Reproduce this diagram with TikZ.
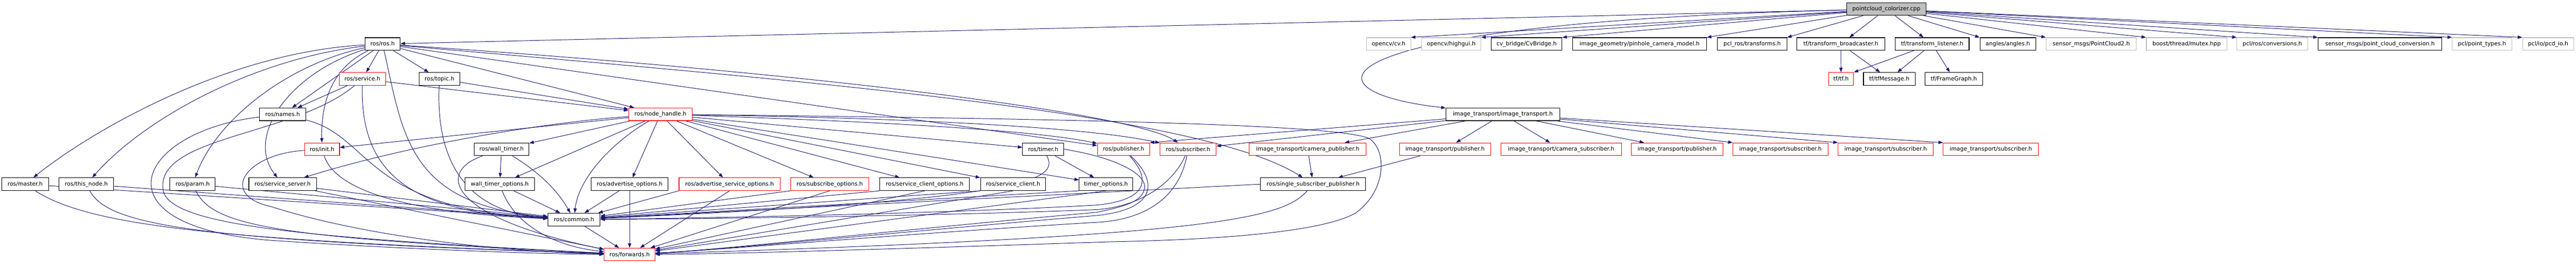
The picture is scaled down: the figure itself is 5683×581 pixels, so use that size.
\documentclass[tikz,border=0pt]{standalone}
\usepackage{fontspec}
\setmainfont{DejaVu Sans}
\usetikzlibrary{arrows.meta,backgrounds}
\definecolor{edgec}{HTML}{191970}
\definecolor{grayb}{HTML}{BFBFBF}
\newcommand\mkbox[6]{%
  \pgfmathsetmacro\boxcx{(#2+#3)/2}%
  \pgfmathsetmacro\boxw{(#3-#2)/2}%
  \node[#5, minimum width=\boxw pt] (#1) at (\boxcx,#4) {#6};}
\tikzset{
  basebox/.style={draw, line width=0.6pt, fill=white, minimum height=14pt, inner sep=0pt,
    font=\fontsize{6.2pt}{7pt}\selectfont, text=black},
  blkbox/.style={basebox, draw=black},
  redbox/.style={basebox, draw=red},
  graybox/.style={basebox, draw=grayb},
  rootbox/.style={basebox, draw=black, fill=grayb},
  ed/.style={draw=edgec, line width=0.55pt, -{Triangle[length=5pt,width=3.6pt]}}
}
\begin{document}
\begin{tikzpicture}[x=0.5pt,y=-0.5pt]
\useasboundingbox (0,0) rectangle (5683,581);
% row 0
\mkbox{root}{4074}{4249}{20}{rootbox}{pointcloud\_colorizer.cpp}
% row 1
\mkbox{rosh}{805}{883}{97}{blkbox}{ros/ros.h}
\mkbox{cvh}{3015}{3112}{97}{graybox}{opencv/cv.h}
\mkbox{highgui}{3136}{3267}{97}{graybox}{opencv/highgui.h}
\mkbox{cvbridge}{3290}{3446}{97}{blkbox}{cv\_bridge/CvBridge.h}
\mkbox{pinhole}{3469}{3765}{97}{blkbox}{image\_geometry/pinhole\_camera\_model.h}
\mkbox{pclros}{3789}{3942}{97}{blkbox}{pcl\_ros/transforms.h}
\mkbox{tfb}{3964}{4158}{97}{blkbox}{tf/transform\_broadcaster.h}
\mkbox{tfl}{4181}{4344}{97}{blkbox}{tf/transform\_listener.h}
\mkbox{angles}{4368}{4491}{97}{blkbox}{angles/angles.h}
\mkbox{pctwo}{4514}{4713}{97}{graybox}{sensor\_msgs/PointCloud2.h}
\mkbox{mutex}{4735}{4913}{97}{graybox}{boost/thread/mutex.hpp}
\mkbox{conv}{4935}{5091}{97}{graybox}{pcl/ros/conversions.h}
\mkbox{pcc}{5114}{5387}{97}{blkbox}{sensor\_msgs/point\_cloud\_conversion.h}
\mkbox{ptypes}{5410}{5541}{97}{graybox}{pcl/point\_types.h}
\mkbox{pcdio}{5565}{5678}{97}{graybox}{pcl/io/pcd\_io.h}
% row 2
\mkbox{service}{748}{851}{174}{redbox}{ros/service.h}
\mkbox{topic}{925}{1014}{174}{blkbox}{ros/topic.h}
\mkbox{tftf}{4034}{4089}{174}{redbox}{tf/tf.h}
\mkbox{tfmsg}{4111}{4225}{174}{blkbox}{tf/tfMessage.h}
\mkbox{fg}{4247}{4374}{174}{blkbox}{tf/FrameGraph.h}
% row 3
\mkbox{names}{572}{675}{252}{blkbox}{ros/names.h}
\mkbox{nh}{1387}{1527}{252}{redbox}{ros/node\_handle.h}
\mkbox{it}{3190}{3441}{252}{blkbox}{image\_transport/image\_transport.h}
% row 4
\mkbox{init}{672}{749}{329}{redbox}{ros/init.h}
\mkbox{wt}{1046}{1167}{329}{blkbox}{ros/wall\_timer.h}
\mkbox{timer}{2256}{2347}{329}{blkbox}{ros/timer.h}
\mkbox{pub}{2421}{2536}{329}{redbox}{ros/publisher.h}
\mkbox{sub}{2559}{2683}{329}{redbox}{ros/subscriber.h}
\mkbox{campub}{2756}{3014}{329}{redbox}{image\_transport/camera\_publisher.h}
\mkbox{itpubA}{3087}{3289}{329}{redbox}{image\_transport/publisher.h}
\mkbox{camsub}{3311}{3577}{329}{redbox}{image\_transport/camera\_subscriber.h}
\mkbox{itpubB}{3599}{3801}{329}{redbox}{image\_transport/publisher.h}
\mkbox{itsubA}{3823}{4033}{329}{redbox}{image\_transport/subscriber.h}
\mkbox{itsubB}{4055}{4265}{329}{redbox}{image\_transport/subscriber.h}
\mkbox{itsubC}{4287}{4497}{329}{redbox}{image\_transport/subscriber.h}
% row 5
\mkbox{master}{4}{107}{406}{blkbox}{ros/master.h}
\mkbox{thisnode}{130}{251}{406}{blkbox}{ros/this\_node.h}
\mkbox{param}{375}{475}{406}{blkbox}{ros/param.h}
\mkbox{ss}{549}{698}{406}{blkbox}{ros/service\_server.h}
\mkbox{wto}{1026}{1179}{406}{blkbox}{wall\_timer\_options.h}
\mkbox{ado}{1304}{1474}{406}{blkbox}{ros/advertise\_options.h}
\mkbox{aso}{1498}{1721}{406}{redbox}{ros/advertise\_service\_options.h}
\mkbox{sbo}{1744}{1917}{406}{redbox}{ros/subscribe\_options.h}
\mkbox{sco}{1941}{2139}{406}{blkbox}{ros/service\_client\_options.h}
\mkbox{sc}{2163}{2307}{406}{blkbox}{ros/service\_client.h}
\mkbox{tmo}{2381}{2499}{406}{blkbox}{timer\_options.h}
\mkbox{ssp}{2781}{3013}{406}{blkbox}{ros/single\_subscriber\_publisher.h}
% rows 6, 7
\mkbox{common}{1209}{1324}{484}{blkbox}{ros/common.h}
\mkbox{fwd}{1333}{1445}{561}{redbox}{ros/forwards.h}

\begin{pgfonlayer}{background}
% root
\foreach \t in {cvh,highgui,cvbridge,pinhole,pclros}
  \draw[ed] (root) -- (\t.north east);
\draw[ed] (root) -- (tfb);
\draw[ed] (root) -- (tfl);
\foreach \t in {angles,pctwo,mutex,conv,pcc,ptypes,pcdio}
  \draw[ed] (root) -- (\t.north west);
\draw[ed] (root) -- (rosh);
\draw[ed] (root) .. controls (2900,50) and (2850,200) .. (it);
% tf
\draw[ed] (tfb) -- (tftf);
\draw[ed] (tfb) -- (tfmsg);
\draw[ed] (tfl) -- (tftf.north east);
\draw[ed] (tfl) -- (tfmsg);
\draw[ed] (tfl) -- (fg);
% ros.h
\draw[ed] (rosh) .. controls (500,115) and (200,290) .. (master);
\draw[ed] (rosh) .. controls (560,130) and (320,260) .. (thisnode);
\draw[ed] (rosh) .. controls (640,140) and (480,260) .. (param);
\draw[ed] (rosh) .. controls (640,160) and (540,300) .. (ss);
\draw[ed] (rosh) -- (names);
\draw[ed] (rosh) .. controls (730,150) and (708,230) .. (init);
\draw[ed] (rosh) -- (service);
\draw[ed] (rosh) -- (topic);
\draw[ed] (rosh) -- (nh);
\draw[ed] (rosh) -- (pub);
\draw[ed] (rosh) .. controls (1800,160) and (2500,250) .. (sub);
\draw[ed] (rosh) .. controls (1800,180) and (2650,250) .. (ssp);
\draw[ed] (rosh) .. controls (890,300) and (900,450) .. (common);
% service.h
\draw[ed] (service) -- (names);
\draw[ed] (service) -- (nh);
\draw[ed] (service) .. controls (795,380) and (900,470) .. (common);
\draw[ed] (service) .. controls (650,300) and (340,300) .. (360,420) .. controls (375,500) and (700,525) .. (fwd);
% topic.h
\draw[ed] (topic) -- (nh);
\draw[ed] (topic) .. controls (960,380) and (1050,470) .. (common);
% names.h
\draw[ed] (names) .. controls (820,300) and (800,460) .. (common);
\draw[ed] (names) .. controls (300,290) and (200,500) .. (600,530) .. controls (900,550) and (1200,560) .. (fwd);
% init.h
\draw[ed] (init) .. controls (740,420) and (900,470) .. (common);
\draw[ed] (init) .. controls (540,340) and (480,430) .. (600,456) .. controls (800,520) and (1100,555) .. (fwd);
% left row 5
\draw[ed] (master) -- (common);
\draw[ed] (master) .. controls (200,500) and (500,530) .. (fwd);
\draw[ed] (thisnode) -- (common);
\draw[ed] (thisnode) .. controls (240,500) and (450,530) .. (fwd);
\draw[ed] (param) -- (common);
\draw[ed] (param) .. controls (470,500) and (620,525) .. (fwd);
\draw[ed] (ss) -- (common);
\draw[ed] (ss) -- (fwd);
% wall timer
\draw[ed] (wt) -- (wto);
\draw[ed] (wt) .. controls (1190,380) and (1230,420) .. (common);
\draw[ed] (wt) .. controls (960,380) and (990,480) .. (fwd);
\draw[ed] (wto) -- (common);
\draw[ed] (wto) .. controls (1130,480) and (1200,540) .. (fwd);
% node_handle.h
\draw[ed] (nh) -- (init);
\draw[ed] (nh) .. controls (1200,270) and (900,320) .. (ss);
\draw[ed] (nh) -- (wt);
\draw[ed] (nh) -- (wto);
\draw[ed] (nh) .. controls (1340,320) and (1275,400) .. (common);
\foreach \t in {ado,aso,sbo,sco,sc,timer,tmo}
  \draw[ed] (nh) -- (\t);
\draw[ed] (nh) .. controls (2000,270) and (2300,290) .. (pub);
\draw[ed] (nh) .. controls (2000,260) and (2400,280) .. (sub);
\draw[ed] (nh) .. controls (2400,262) and (2950,275) .. (3020,305) .. controls (3060,330) and (3060,420) .. (2990,470) .. controls (2900,520) and (2600,530) .. (2450,533) .. controls (2000,548) and (1600,560) .. (fwd);
% options row to common / forwards
\draw[ed] (ado) -- (common);
\draw[ed] (ado) -- (fwd);
\foreach \t in {aso,sbo,sco,sc,tmo}{
  \draw[ed] (\t.south west) -- (common);
  \draw[ed] (\t.south) -- (fwd);
}
% timer
\draw[ed] (timer) -- (tmo);
\draw[ed] (timer) .. controls (2340,400) and (2250,440) .. (common);
\draw[ed] (timer.east) .. controls (2450,345) and (2530,380) .. (2525,415) .. controls (2520,445) and (2480,455) .. (2420,468) .. controls (2000,505) and (1600,550) .. (fwd);
% publisher / subscriber
\draw[ed] (pub) .. controls (2535,390) and (2540,440) .. (2420,452) .. controls (2100,470) and (1600,480) .. (common);
\draw[ed] (pub) .. controls (2550,395) and (2560,460) .. (2420,475) .. controls (2000,510) and (1600,550) .. (fwd);
\draw[ed] (sub) .. controls (2590,400) and (2520,455) .. (2420,462) .. controls (2100,475) and (1600,482) .. (common);
\draw[ed] (sub) .. controls (2600,440) and (2520,485) .. (2420,490) .. controls (2000,515) and (1600,550) .. (fwd);
% single subscriber publisher
\draw[ed] (ssp.west) -- (common);
\draw[ed] (ssp) .. controls (2830,480) and (2700,520) .. (fwd);
\draw[ed] (campub) -- (ssp);
\draw[ed] (itpubA) -- (ssp);
% image_transport.h
\draw[ed] (it) -- (pub.north east);
\draw[ed] (it) -- (sub);
\draw[ed] (it) -- (campub);
\draw[ed] (it) -- (itpubA);
\draw[ed] (it) -- (camsub);
\draw[ed] (it) -- (itpubB);
\draw[ed] (it) -- (itsubA.north west);
\draw[ed] (it) -- (itsubB.north west);
\draw[ed] (it) -- (itsubC.north west);
% common
\draw[ed] (common) -- (fwd);
\end{pgfonlayer}
\end{tikzpicture}
\end{document}
